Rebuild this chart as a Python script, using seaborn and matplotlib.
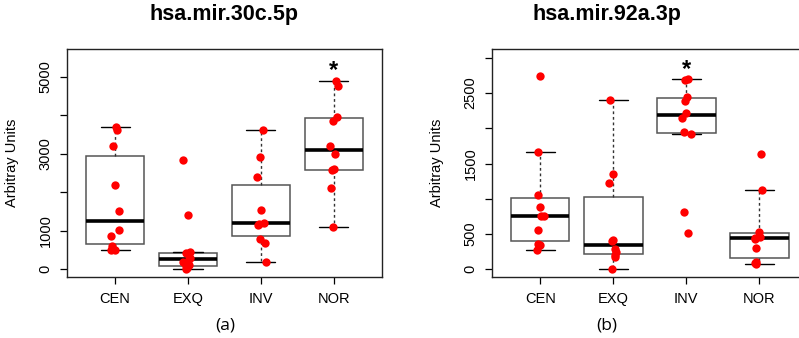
import matplotlib
matplotlib.use('Agg')
import matplotlib.pyplot as plt
import seaborn as sns
import pandas as pd
import numpy as np

# groups on the x axis
groups = ['CEN', 'EXQ', 'INV', 'NOR']

# panel (a) hsa.mir.30c.5p, values
mir30_cen = [3700, 3610, 3190, 2175, 1510, 1010, 870, 600, 500, 495]
mir30_exq = [2830, 1420, 440, 420, 290, 270, 180, 100, 80, 40, 20]
mir30_inv = [3610, 2910, 2390, 1550, 1210, 1180, 1160, 780, 690, 190]
mir30_nor = [4880, 4760, 3940, 3860, 3200, 2990, 2600, 2570, 2120, 1100]

# panel (b) hsa.mir.92a.3p
mir92_cen = [2740, 1660, 1060, 880, 760, 750, 560, 355, 340, 280]
mir92_exq = [2400, 1350, 1220, 420, 400, 290, 240, 200, 170, 0]
mir92_inv = [2700, 2680, 2450, 2380, 2220, 2150, 1950, 1920, 810, 520]
mir92_nor = [1630, 1120, 530, 460, 450, 430, 300, 110, 95, 70]

titles = ['hsa.mir.30c.5p', 'hsa.mir.92a.3p']
panel_tags = ['(a)', '(b)']
yticks_a = [0, 1000, 2000, 3000, 4000, 5000]
ytick_labels_a = ['0', '1000', '', '3000', '', '5000']
yticks_b = [0, 500, 1000, 1500, 2000, 2500, 3000]
ytick_labels_b = ['0', '500', '', '1500', '', '2500', '']
star_group = ['NOR', 'INV']


def long_frame(cols):
    rows = []
    for g, vals in zip(groups, cols):
        for v in vals:
            rows.append({'group': g, 'value': v})
    return pd.DataFrame(rows)


df_a = long_frame([mir30_cen, mir30_exq, mir30_inv, mir30_nor])
df_b = long_frame([mir92_cen, mir92_exq, mir92_inv, mir92_nor])

sns.set_style('white')
plt.rcParams['font.family'] = ['Liberation Sans', 'DejaVu Sans']
plt.rcParams['text.color'] = 'black'
plt.rcParams['axes.labelcolor'] = 'black'
plt.rcParams['xtick.color'] = 'black'
plt.rcParams['ytick.color'] = 'black'

fig = plt.figure(figsize=(7.99, 3.38), dpi=100)
ax_a = fig.add_axes([0.0839, 0.1805, 0.394, 0.675])
ax_b = fig.add_axes([0.6158, 0.1805, 0.395, 0.675])

np.random.seed(3)  # only for the horizontal jitter of the dots

panels = [
    (ax_a, df_a, yticks_a, ytick_labels_a, (-199, 5720), 5000, 0.5),
    (ax_b, df_b, yticks_b, ytick_labels_b, (-109, 3126), 2735, 0.364),
]

for i, (ax, df, yt, ytl, ylim, star_y, title_x) in enumerate(panels):
    sns.boxplot(data=df, x='group', y='value', order=groups, ax=ax,
                color='white', linecolor='#555555', linewidth=1.1,
                width=0.8, whis=2.0, showfliers=False,
                medianprops={'color': 'black', 'linewidth': 2.6},
                whiskerprops={'color': '#333333', 'linestyle': (0, (2, 2)), 'linewidth': 1},
                capprops={'color': 'black', 'linewidth': 1})
    sns.stripplot(data=df, x='group', y='value', order=groups, ax=ax,
                  color='#ff0000', size=6, jitter=0.07, linewidth=0, zorder=5)

    ax.set_xlim(-0.66, 3.66)
    ax.set_ylim(*ylim)
    ax.set_yticks(yt)
    ax.set_yticklabels(ytl)
    ax.set_xlabel('')
    ax.set_ylabel('Arbitray Units', fontsize=10.5)
    ax.yaxis.set_label_coords(-0.152, 0.5)
    ax.tick_params(axis='both', length=5, width=0.9, colors='black',
                   labelsize=10.5, pad=5.5, direction='out', left=True, bottom=True)
    for lab in ax.get_yticklabels():
        lab.set_rotation(90)
        lab.set_va('center')
    for sp in ax.spines.values():
        sp.set_color('#222222')
        sp.set_linewidth(1)

    ax.set_title(titles[i], fontsize=15.5, fontweight='bold', pad=21, x=title_x)
    ax.text(groups.index(star_group[i]), star_y, '*', ha='center', va='baseline',
            fontsize=17, fontweight='bold')

fig.text(225 / 799, 1 - 326 / 338, panel_tags[0], ha='center', va='center',
         fontsize=12.5, family=['Open Sans', 'DejaVu Sans'])
fig.text(607 / 799, 1 - 326 / 338, panel_tags[1], ha='center', va='center',
         fontsize=12.5, family=['Open Sans', 'DejaVu Sans'])

plt.savefig('out.png', dpi=100)
plt.close()
